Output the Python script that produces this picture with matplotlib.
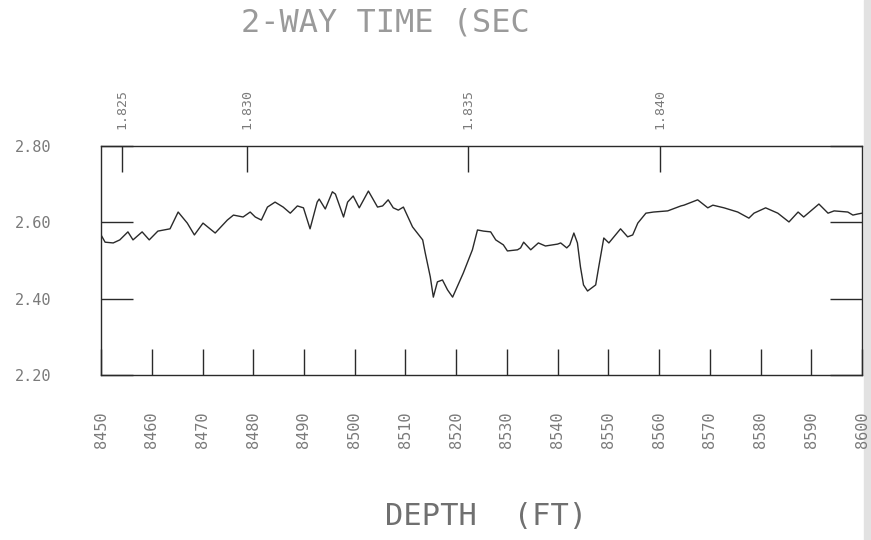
import matplotlib
matplotlib.use("Agg")
import matplotlib.pyplot as plt
from matplotlib.patches import Rectangle

# log trace: depth (ft) vs value
depth = [8450.0, 8450.8, 8452.4, 8453.7, 8455.3, 8456.3, 8458.1, 8459.5, 8461.2, 8463.6,
         8465.2, 8467.0, 8468.4, 8470.1, 8472.5, 8474.9, 8476.1, 8478.0, 8479.4, 8480.4,
         8481.6, 8482.8, 8484.3, 8485.9, 8487.3, 8488.7, 8489.9, 8491.2, 8492.6, 8493.0,
         8494.2, 8495.6, 8496.2, 8497.8, 8498.6, 8499.7, 8500.9, 8502.7, 8504.5, 8505.5,
         8506.6, 8507.6, 8508.6, 8509.6, 8511.4, 8513.4, 8513.9, 8514.9, 8515.5, 8516.3,
         8517.3, 8518.3, 8519.3, 8521.4, 8523.2, 8524.2, 8525.4, 8526.8, 8527.8, 8529.3,
         8530.1, 8532.1, 8532.7, 8533.3, 8534.7, 8536.2, 8537.6, 8540.0, 8540.6, 8541.8,
         8542.4, 8543.2, 8543.9, 8544.5, 8545.1, 8545.9, 8547.5, 8548.1, 8549.1, 8550.1,
         8552.4, 8553.8, 8554.8, 8555.8, 8557.4, 8558.9, 8561.7, 8564.3, 8564.9, 8567.6,
         8569.6, 8570.6, 8572.8, 8575.5, 8577.7, 8578.7, 8581.0, 8583.4, 8585.6, 8587.4,
         8588.5, 8591.5, 8593.3, 8594.5, 8597.2, 8598.2, 8599.2, 8600.0]
values = [2.567, 2.548, 2.546, 2.554, 2.575, 2.554, 2.575, 2.554, 2.577, 2.583,
          2.627, 2.598, 2.567, 2.598, 2.572, 2.606, 2.619, 2.614, 2.627, 2.614,
          2.606, 2.640, 2.653, 2.640, 2.624, 2.643, 2.638, 2.583, 2.653, 2.661,
          2.635, 2.680, 2.674, 2.614, 2.653, 2.669, 2.638, 2.682, 2.640, 2.643,
          2.659, 2.638, 2.632, 2.640, 2.588, 2.554, 2.520, 2.457, 2.404, 2.444,
          2.449, 2.423, 2.404, 2.467, 2.528, 2.580, 2.577, 2.575, 2.554, 2.541,
          2.525, 2.528, 2.533, 2.548, 2.528, 2.546, 2.538, 2.543, 2.546, 2.533,
          2.541, 2.572, 2.546, 2.483, 2.436, 2.420, 2.436, 2.483, 2.559, 2.546,
          2.583, 2.562, 2.567, 2.598, 2.624, 2.627, 2.630, 2.643, 2.645, 2.659,
          2.638, 2.645, 2.638, 2.627, 2.611, 2.624, 2.638, 2.624, 2.601, 2.627,
          2.614, 2.648, 2.624, 2.630, 2.627, 2.619, 2.622, 2.624]

depth_ticks = [8450, 8460, 8470, 8480, 8490, 8500, 8510, 8520,
               8530, 8540, 8550, 8560, 8570, 8580, 8590, 8600]
value_ticks = [2.20, 2.40, 2.60, 2.80]

# two-way time markers along the top (depth where each time is reached)
time_depths = [8454.2, 8478.7, 8522.3, 8560.1]
time_labels = ["1.825", "1.830", "1.835", "1.840"]

ink = "#2a2a2a"
txt = "#7a7a7a"
mono = "DejaVu Sans Mono"

fig = plt.figure(figsize=(8.71, 5.40), dpi=100)
ax = fig.add_axes([0.116, 0.3056, 0.8737, 0.424])

ax.plot(depth, values, color=ink, linewidth=1.0)

ax.set_xlim(8450, 8600)
ax.set_ylim(2.2, 2.8)

ax.set_xticks(depth_ticks)
ax.set_xticklabels([str(d) for d in depth_ticks], rotation=90,
                   fontfamily=mono, fontsize=11, color=txt)
ax.set_yticks(value_ticks)
ax.set_yticklabels(["%.2f" % v for v in value_ticks],
                   fontfamily=mono, fontsize=11, color=txt)

ax.tick_params(axis="x", direction="in", length=19, width=1, color=ink, pad=26)
ax.tick_params(axis="y", direction="in", length=23, width=1, color=ink,
               right=True, pad=36)

for s in ax.spines.values():
    s.set_color(ink)
    s.set_linewidth(1)

top = ax.secondary_xaxis("top")
top.set_xticks(time_depths, labels=time_labels)
top.tick_params(direction="in", length=19, width=1, color=ink, pad=12,
                labelrotation=90, labelsize=9.5, labelcolor=txt)
for lab in top.get_xticklabels():
    lab.set_fontfamily(mono)
top.spines["top"].set_visible(False)

fig.text(0.443, 0.958, "2-WAY TIME (SEC", fontfamily=mono, fontsize=23,
         color="#9a9a9a", ha="center", va="center")
fig.text(0.558, 0.043, "DEPTH  (FT)", fontfamily=mono, fontsize=22,
         color="#707070", ha="center", va="center")

# shadow of the scanned page edge
fig.patches.append(Rectangle((0.992, 0), 0.008, 1, transform=fig.transFigure,
                             color="#e2e2e2", zorder=-1))

fig.savefig("out.png", dpi=100)
